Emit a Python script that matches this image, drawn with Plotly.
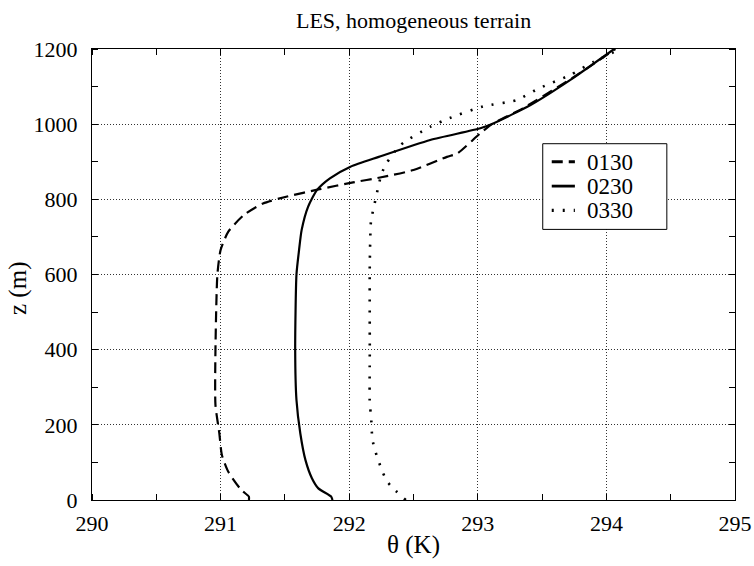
import plotly.graph_objects as go

# 0130
z_0130 = [0, 9, 27, 75, 120, 178, 253, 400, 600, 665, 714, 758, 789, 807, 827, 845, 858, 878, 913, 922, 976, 1002, 1042, 1135, 1200]
t_0130 = [291.22, 291.22, 291.16, 291.06, 291.01, 290.99, 290.96, 290.96, 290.975, 291.0, 291.06, 291.18, 291.33, 291.51, 291.77, 292.03, 292.24, 292.50, 292.76, 292.84, 293.02, 293.12, 293.35, 293.79, 294.07]
# 0230
z_0230 = [0, 9, 31, 58, 106, 177, 266, 400, 600, 665, 718, 780, 825, 856, 887, 913, 958, 989, 1002, 1051, 1118, 1200]
t_0230 = [291.87, 291.86, 291.76, 291.71, 291.66, 291.62, 291.59, 291.58, 291.59, 291.61, 291.63, 291.68, 291.75, 291.85, 292.01, 292.23, 292.63, 293.02, 293.12, 293.41, 293.72, 294.06]
# 0330
z_0330 = [0, 25, 47, 74, 102, 133, 162, 224, 255, 400, 625, 745, 776, 809, 838, 867, 896, 945, 993, 1016, 1047, 1064, 1096, 1131, 1166, 1200]
t_0330 = [292.44, 292.36, 292.30, 292.26, 292.23, 292.20, 292.18, 292.17, 292.16, 292.16, 292.16, 292.17, 292.19, 292.21, 292.23, 292.25, 292.29, 292.40, 292.63, 292.78, 293.04, 293.30, 293.48, 293.72, 293.90, 294.11]

series_names = ["0130", "0230", "0330"]
series_dash = ["11px,6px", "solid", "2px,9px"]
series_width = [2.2, 2.2, 2.6]

x_ticks = [290, 291, 292, 293, 294, 295]
y_ticks = [0, 200, 400, 600, 800, 1000, 1200]

FONT = "Liberation Serif, Times New Roman, serif"

fig = go.Figure()
for name, xs, ys, dash, w in zip(series_names, [t_0130, t_0230, t_0330], [z_0130, z_0230, z_0330],
                                 series_dash, series_width):
    fig.add_trace(go.Scatter(x=xs, y=ys, mode="lines", name=name, showlegend=False,
                             line=dict(color="black", width=w, dash=dash, shape="spline", smoothing=0.6)))

axis_common = dict(
    showline=True, linecolor="black", linewidth=1.2, mirror="allticks", automargin=False,
    showgrid=True, gridcolor="#333", griddash="1px,2px", gridwidth=1,
    zeroline=False, ticks="", tickfont=dict(family=FONT, size=22, color="black"),
)
fig.update_xaxes(range=[290, 295], tickvals=x_ticks, ticklabelstandoff=3,
                 title=dict(text="θ (K)", font=dict(family=FONT, size=25, color="black"), standoff=0),
                 minor=dict(dtick=0.5, tick0=290, ticks="inside", ticklen=6, tickcolor="black", showgrid=False),
                 **axis_common)
fig.update_yaxes(range=[0, 1200], tickvals=y_ticks, ticklabelstandoff=9,
                 minor=dict(dtick=100, tick0=0, ticks="inside", ticklen=6, tickcolor="black", showgrid=False),
                 **axis_common)

# y-axis title (placed slightly below centre, as in the reference)
fig.add_annotation(xref="paper", yref="paper", x=-0.115, y=0.468, text="z (m)", showarrow=False,
                   textangle=-90, xanchor="center", yanchor="middle",
                   font=dict(family=FONT, size=25, color="black"))

# Legend box drawn manually (compact line spacing like the reference)
legend_left, legend_right, legend_top, legend_bottom = 0.701, 0.894, 0.790, 0.600
row_y = [0.750, 0.696, 0.642]
fig.add_shape(type="rect", xref="paper", yref="paper", x0=legend_left, x1=legend_right,
              y0=legend_bottom, y1=legend_top, line=dict(color="black", width=1), fillcolor="white",
              layer="above")
for name, dash, w, ry in zip(series_names, series_dash, series_width, row_y):
    fig.add_shape(type="line", xref="paper", yref="paper", x0=0.715, x1=0.751, y0=ry, y1=ry,
                  line=dict(color="black", width=w + 0.6, dash=dash), layer="above")
    fig.add_annotation(xref="paper", yref="paper", x=0.767, y=ry, text=name, showarrow=False,
                       xanchor="left", yanchor="middle", height=22,
                       font=dict(family=FONT, size=23, color="black"))

fig.update_layout(
    width=754, height=566,
    margin=dict(l=92, r=19, t=49, b=66, autoexpand=False),
    paper_bgcolor="white", plot_bgcolor="white",
    title=dict(text="LES, homogeneous terrain", x=0.5485, xanchor="center", y=0.965, yanchor="middle",
               font=dict(family=FONT, size=22, color="black")),
    showlegend=False,
    font=dict(family=FONT, color="black"),
)

fig.write_html("out.html")
